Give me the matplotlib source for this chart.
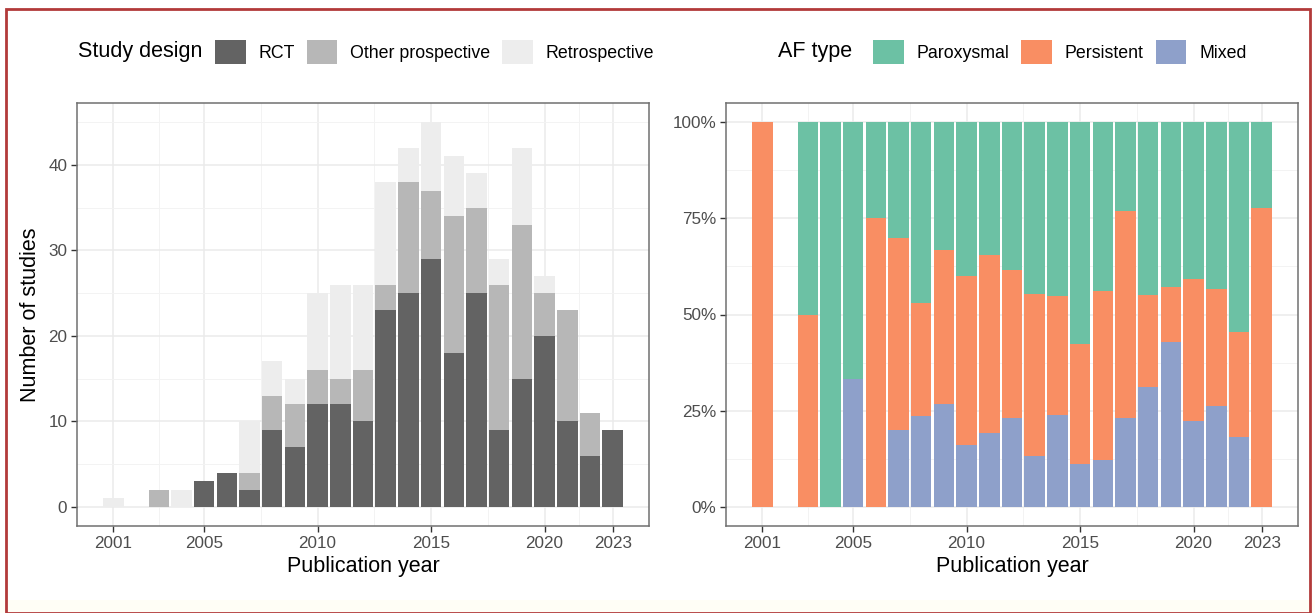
import numpy as np
import matplotlib
matplotlib.use("Agg")
import matplotlib.pyplot as plt
from matplotlib.patches import Patch, Rectangle
from matplotlib.ticker import FixedLocator, PercentFormatter

plt.rcParams['font.family'] = ['Liberation Sans', 'DejaVu Sans']

# Publication years and study counts by design
years = np.arange(2001, 2024)
rct = [0, 0, 0, 0, 3, 4, 2, 9, 7, 12, 12, 10, 23, 25, 29, 18, 25, 9, 15, 20, 10, 6, 9]
other_prosp = [0, 0, 2, 0, 0, 0, 2, 4, 5, 4, 3, 6, 3, 13, 8, 16, 10, 17, 18, 5, 13, 5, 0]
retro = [1, 0, 0, 2, 0, 0, 6, 4, 3, 9, 11, 10, 12, 4, 8, 7, 4, 3, 9, 2, 0, 0, 0]

# Study counts by AF type
paroxysmal = [0, 0, 1, 2, 2, 1, 3, 8, 5, 10, 9, 10, 17, 19, 26, 18, 9, 13, 18, 11, 10, 6, 2]
persistent = [1, 0, 1, 0, 0, 3, 5, 5, 6, 11, 12, 10, 16, 13, 14, 18, 21, 7, 6, 10, 7, 3, 7]
mixed = [0, 0, 0, 0, 1, 0, 2, 4, 4, 4, 5, 6, 5, 10, 5, 5, 9, 9, 18, 6, 6, 2, 0]

year_ticks = [2001, 2005, 2010, 2015, 2020, 2023]
year_minor = [2003, 2007.5, 2012.5, 2017.5, 2021.5]

design_labels = ["RCT", "Other prospective", "Retrospective"]
design_colors = ["#636363", "#b7b7b7", "#ededed"]
af_labels = ["Paroxysmal", "Persistent", "Mixed"]
af_colors = ["#6cc1a4", "#f98e63", "#8ea0ca"]

W, H = 1315, 613
fig = plt.figure(figsize=(W / 100, H / 100), dpi=100)
fig.patch.set_facecolor("white")


def px_axes(left, top, right, bottom):
    return fig.add_axes([left / W, 1 - bottom / H, (right - left) / W, (bottom - top) / H])


def style_panel(ax):
    ax.set_facecolor("white")
    ax.set_xlim(1999.4, 2024.6)
    ax.xaxis.set_major_locator(FixedLocator(year_ticks))
    ax.xaxis.set_minor_locator(FixedLocator(year_minor))
    ax.set_xticklabels([str(y) for y in year_ticks])
    ax.grid(which="major", color="#ebebeb", linewidth=1.1, zorder=0)
    ax.grid(which="minor", color="#f3f3f3", linewidth=0.7, zorder=0)
    ax.set_axisbelow(True)
    for s in ax.spines.values():
        s.set_color("#707070")
        s.set_linewidth(1.1)
    ax.tick_params(which="major", length=4, width=1, color="#333333",
                   labelcolor="#4d4d4d", labelsize=12.3, pad=3)
    ax.tick_params(which="minor", length=0)
    ax.set_xlabel("Publication year", fontsize=15.5, color="black", labelpad=4)


# Left panel: counts stacked by study design
ax1 = px_axes(77, 103, 649, 526)
style_panel(ax1)
bottom = np.zeros(len(years))
for vals, col in zip([rct, other_prosp, retro], design_colors):
    ax1.bar(years, vals, width=0.9, bottom=bottom, color=col, linewidth=0, zorder=2)
    bottom += np.array(vals)
ax1.set_ylim(-2.25, 47.25)
ax1.yaxis.set_major_locator(FixedLocator([0, 10, 20, 30, 40]))
ax1.yaxis.set_minor_locator(FixedLocator([5, 15, 25, 35, 45]))
ax1.set_ylabel("Number of studies", fontsize=15.5, color="black", labelpad=5)

# Right panel: proportions by AF type
ax2 = px_axes(726, 103, 1298, 526)
style_panel(ax2)
counts = np.array([mixed, persistent, paroxysmal], dtype=float)
totals = counts.sum(axis=0)
shares = np.divide(counts, totals, out=np.zeros_like(counts), where=totals > 0)
bottom = np.zeros(len(years))
for share, col in zip(shares, [af_colors[2], af_colors[1], af_colors[0]]):
    ax2.bar(years, share, width=0.9, bottom=bottom, color=col, linewidth=0, zorder=2)
    bottom += share
ax2.set_ylim(-0.05, 1.05)
ax2.yaxis.set_major_locator(FixedLocator([0, 0.25, 0.5, 0.75, 1.0]))
ax2.yaxis.set_minor_locator(FixedLocator([0.125, 0.375, 0.625, 0.875]))
ax2.yaxis.set_major_formatter(PercentFormatter(xmax=1, decimals=0))

# Legends on top, title to the left of the keys
leg_kw = dict(ncol=3, frameon=False, fontsize=12.8, handlelength=1.72, handleheight=1.72,
              handletextpad=0.72, columnspacing=0.68, borderaxespad=0, borderpad=0)

fig.text(78 / W, 1 - 52 / H, "Study design", fontsize=15.5, va="center", ha="left")
h1 = [Patch(facecolor=c, edgecolor="none") for c in design_colors]
fig.legend(h1, design_labels, loc="center left", bbox_to_anchor=(215 / W, 1 - 52 / H), **leg_kw)

fig.text(778 / W, 1 - 52 / H, "AF type", fontsize=15.5, va="center", ha="left")
h2 = [Patch(facecolor=c, edgecolor="none") for c in af_colors]
fig.legend(h2, af_labels, loc="center left", bbox_to_anchor=(873 / W, 1 - 52 / H), **leg_kw)

# Outer frame
fig.patches.append(Rectangle((0, 0), 1, 13 / H, transform=fig.transFigure,
                             facecolor="#fffef6", edgecolor="none", zorder=0))
fig.patches.append(Rectangle((6.5 / W, 0.5 / H), (1310 - 6.5) / W, (H - 9.5) / H,
                             transform=fig.transFigure, facecolor="none",
                             edgecolor="#b23a3a", linewidth=2, zorder=5))

fig.savefig("out.png", dpi=100)
